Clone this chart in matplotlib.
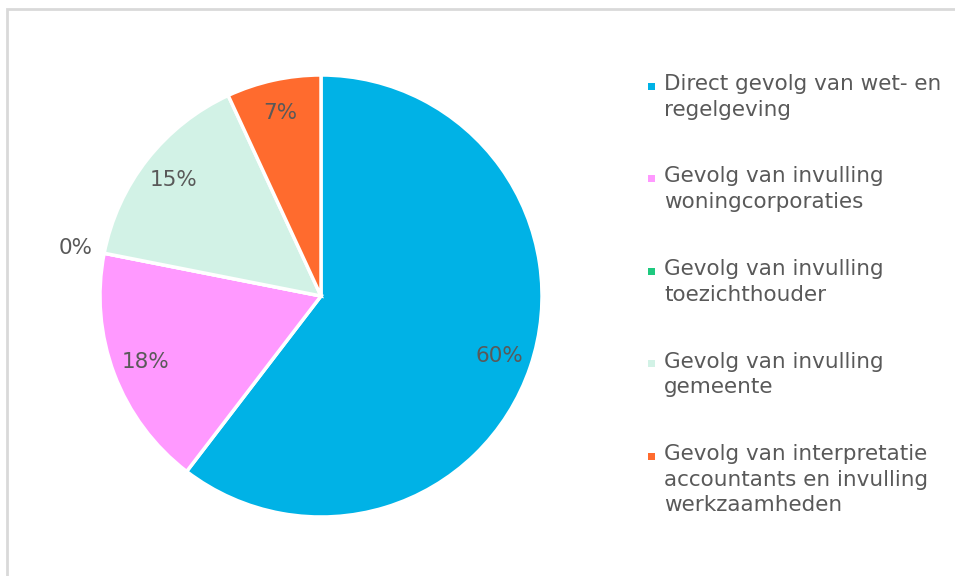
import matplotlib
matplotlib.use("Agg")
import matplotlib.pyplot as plt
import numpy as np
from matplotlib.patches import Rectangle

categories = [
    "Direct gevolg van wet- en\nregelgeving",
    "Gevolg van invulling\nwoningcorporaties",
    "Gevolg van invulling\ntoezichthouder",
    "Gevolg van invulling\ngemeente",
    "Gevolg van interpretatie\naccountants en invulling\nwerkzaamheden",
]
values = [60.4, 17.7, 0.0, 15.0, 6.9]
colors = ["#00B2E6", "#FF99FF", "#1EC97F", "#D2F2E6", "#FF6B2E"]

W, H = 955, 576
fig = plt.figure(figsize=(W / 100, H / 100), dpi=100)
fig.patch.set_facecolor("white")

# light gray frame (clipped on right/bottom)
fig.add_artist(Rectangle((7 / W, -0.1), 1.2, 1.1 - 8.5 / H, transform=fig.transFigure,
                         fill=False, edgecolor="#D9D9D9", linewidth=2))

cx, cy, r = 321, 296, 221
ax = fig.add_axes([(cx - r) / W, 1 - (cy + r) / H, 2 * r / W, 2 * r / H])
wedges, _ = ax.pie(values, colors=colors, startangle=90, counterclock=False,
                   wedgeprops=dict(edgecolor="white", linewidth=2.5), radius=1)
ax.set_xlim(-1, 1)
ax.set_ylim(-1, 1)
ax.set_aspect("equal")
ax.axis("off")

txtcol = "#595959"
fs = 15.5
for w, v in zip(wedges, values):
    mid = np.deg2rad((w.theta1 + w.theta2) / 2)
    d = 0.85 if v > 0 else 1.13
    ax.text(d * np.cos(mid), d * np.sin(mid), f"{v:.0f}%", ha="center", va="center",
            fontsize=fs, color=txtcol, clip_on=False)

# legend
lx_marker, lx_text = 651, 664
y0, step = 86, 92.5
for i, (lab, c) in enumerate(zip(categories, colors)):
    y = y0 + i * step
    fig.add_artist(Rectangle(((lx_marker - 3.5) / W, 1 - (y + 3.5) / H), 7 / W, 7 / H,
                             transform=fig.transFigure, facecolor=c, edgecolor="none"))
    fig.text(lx_text / W, 1 - (y - 12) / H, lab, ha="left", va="top", fontsize=fs,
             color=txtcol, linespacing=1.35)

fig.savefig("out.png", dpi=100, facecolor="white")
